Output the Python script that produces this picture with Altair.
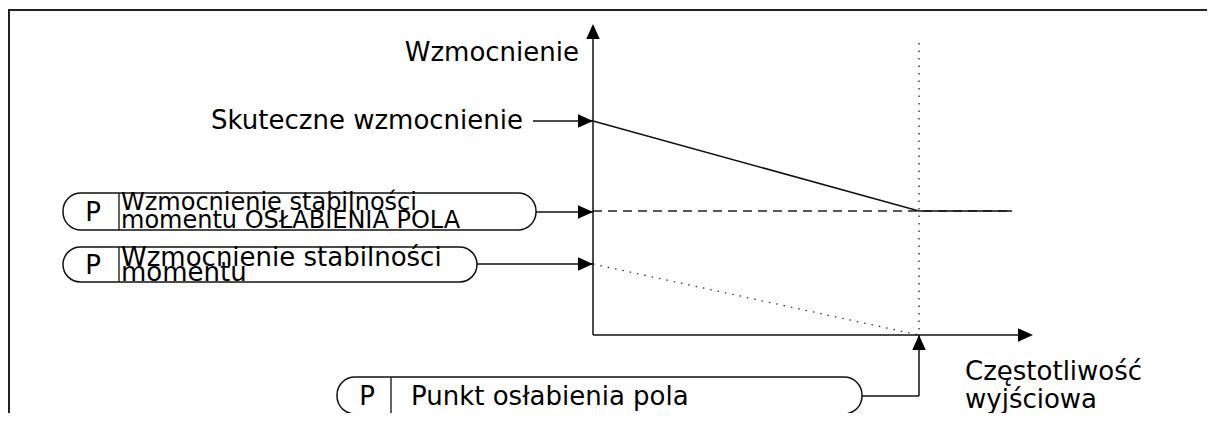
import altair as alt
import pandas as pd

# ---- coordinate system of the drawing (picture pixels) ----
X_DOMAIN = [8, 1207]
Y_DOMAIN = [8, 413]

# ---- frame ----
frame_x = [9, 9, 1207]
frame_y = [413, 10, 10]

# ---- axes of the diagram ----
origin_x, origin_y = 593, 335
y_axis_tip = 24
x_axis_tip = 1033

# ---- gain curves ----
fw_point_x = 919          # field weakening point
curve_end_x = 1012
gain_eff = 121            # Skuteczne wzmocnienie (start)
gain_fw = 211             # Wzmocnienie stabilności momentu OSŁABIENIA POLA
gain_tq = 264             # Wzmocnienie stabilności momentu
guide_top = 43

eff_x = [origin_x, fw_point_x, curve_end_x]
eff_y = [gain_eff, gain_fw, gain_fw]
fw_x = [origin_x, curve_end_x]
fw_y = [gain_fw, gain_fw]
tq_x = [origin_x, fw_point_x]
tq_y = [gain_tq, origin_y]

# ---- parameter boxes ----
pill_left = [63, 63, 337]
pill_right = [536, 477, 862]
pill_top = [193, 247, 377]
pill_bottom = [230, 282, 414]
pill_div = [119, 119, 391]

# ---- connectors (solid) ----
con_x = [533, 536, 477, 862, fw_point_x]
con_x2 = [origin_x, origin_x, origin_x, fw_point_x, fw_point_x]
con_y = [gain_eff, gain_fw + 1, gain_tq, 396, 396]
con_y2 = [gain_eff, gain_fw + 1, gain_tq, 396, origin_y]

# ---- arrow heads ----
right_tip_x = [origin_x, origin_x, origin_x, x_axis_tip]
right_tip_y = [gain_eff, gain_fw + 1, gain_tq, origin_y]
up_tip_x = [origin_x, fw_point_x]
up_tip_y = [y_axis_tip, origin_y]

# ---- texts ----
txt_right = ["Wzmocnienie", "Skuteczne wzmocnienie"]
txt_right_x = [579, 523]
txt_right_y = [61, 129]

txt_p_x = [93, 93, 367]
txt_p_y = [221, 274, 405]

txt_left = ["Wzmocnienie stabilności", "momentu OSŁABIENIA POLA",
            "Wzmocnienie stabilności", "momentu",
            "Punkt osłabienia pola", "Częstotliwość", "wyjściowa"]
txt_left_x = [121, 121, 121, 121, 411, 965, 965]
txt_left_y = [210, 228, 266, 281, 405, 380, 408]
txt_left_fs = [24, 24, 26, 26, 26, 26, 26]

FONT = "DejaVu Sans"

xs = alt.Scale(domain=X_DOMAIN, nice=False, zero=False)
ys = alt.Scale(domain=Y_DOMAIN, nice=False, zero=False, reverse=True)


def X(f="x"):
    return alt.X(f, type="quantitative", scale=xs, axis=None)


def Y(f="y"):
    return alt.Y(f, type="quantitative", scale=ys, axis=None)


frame = alt.Chart(pd.DataFrame({"x": frame_x, "y": frame_y, "o": [0, 1, 2]})).mark_line(
    color="#222", strokeWidth=2).encode(x=X(), y=Y(), order="o:Q")

axes = alt.Chart(pd.DataFrame({
    "x": [origin_x, origin_x], "x2": [origin_x, x_axis_tip - 10],
    "y": [origin_y, origin_y], "y2": [y_axis_tip + 10, origin_y]})).mark_rule(
    color="#111", strokeWidth=1.5).encode(x=X(), x2="x2", y=Y(), y2="y2")

guide = alt.Chart(pd.DataFrame({"x": [fw_point_x], "y": [guide_top], "y2": [origin_y]})).mark_rule(
    color="#222", strokeWidth=1.3, strokeDash=[1.5, 6]).encode(x=X(), y=Y(), y2="y2")

fw_line = alt.Chart(pd.DataFrame({"x": fw_x, "y": fw_y})).mark_line(
    color="#222", strokeWidth=1.5, strokeDash=[9, 6]).encode(x=X(), y=Y())

tq_line = alt.Chart(pd.DataFrame({"x": tq_x, "y": tq_y})).mark_line(
    color="#333", strokeWidth=1.3, strokeDash=[1.5, 6]).encode(x=X(), y=Y())

eff_line = alt.Chart(pd.DataFrame({"x": eff_x, "y": eff_y, "o": [0, 1, 2]})).mark_line(
    color="#111", strokeWidth=1.6).encode(x=X(), y=Y(), order="o:Q")

pills = alt.Chart(pd.DataFrame({"x": pill_left, "x2": pill_right,
                                "y": pill_top, "y2": pill_bottom})).mark_rect(
    cornerRadius=18, fill="white", stroke="#111", strokeWidth=1.5).encode(
    x=X(), x2="x2", y=Y(), y2="y2")

dividers = alt.Chart(pd.DataFrame({"x": pill_div, "y": pill_top, "y2": pill_bottom})).mark_rule(
    color="#111", strokeWidth=1.3).encode(x=X(), y=Y(), y2="y2")

connectors = alt.Chart(pd.DataFrame({"x": con_x, "x2": con_x2, "y": con_y, "y2": con_y2})).mark_rule(
    color="#111", strokeWidth=1.5).encode(x=X(), x2="x2", y=Y(), y2="y2")

heads_r = alt.Chart(pd.DataFrame({"x": right_tip_x, "y": right_tip_y})).mark_point(
    shape="M0,0L-1,-0.45L-1,0.45Z", size=900, filled=True, fill="black",
    opacity=1, strokeWidth=0).encode(x=X(), y=Y())

heads_u = alt.Chart(pd.DataFrame({"x": up_tip_x, "y": up_tip_y})).mark_point(
    shape="M0,0L-0.45,1L0.45,1Z", size=900, filled=True, fill="black",
    opacity=1, strokeWidth=0).encode(x=X(), y=Y())

t_right = alt.Chart(pd.DataFrame({"x": txt_right_x, "y": txt_right_y, "t": txt_right})).mark_text(
    align="right", baseline="alphabetic", font=FONT, fontSize=26, color="black").encode(
    x=X(), y=Y(), text="t:N")

t_p = alt.Chart(pd.DataFrame({"x": txt_p_x, "y": txt_p_y, "t": ["P"] * 3})).mark_text(
    align="center", baseline="alphabetic", font=FONT, fontSize=26, color="black").encode(
    x=X(), y=Y(), text="t:N")

t_left = alt.Chart(pd.DataFrame({"x": txt_left_x, "y": txt_left_y, "t": txt_left,
                                 "fs": txt_left_fs})).mark_text(
    align="left", baseline="alphabetic", font=FONT, color="black").encode(
    x=X(), y=Y(), text="t:N", size=alt.Size("fs:Q", scale=None, legend=None))

chart = alt.layer(frame, guide, fw_line, tq_line, eff_line, axes, pills, dividers,
                  connectors, heads_r, heads_u, t_right, t_p, t_left).properties(
    width=1199, height=405, padding=0, autosize="none", background="white"
).configure_view(strokeWidth=0)

chart.save("out.html", embed_options={"renderer": "svg", "actions": False})
